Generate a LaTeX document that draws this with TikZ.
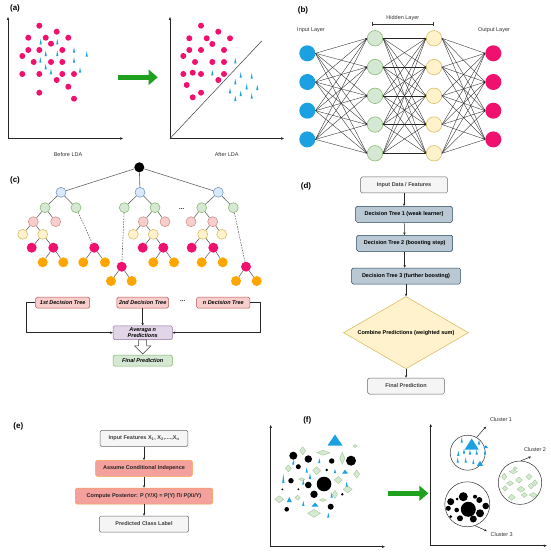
\documentclass[tikz,border=0pt]{standalone}
\usepackage{fontspec}
\setmainfont{Liberation Sans}
\usetikzlibrary{arrows.meta,shapes.geometric,calc}
\definecolor{pinkc}{HTML}{F0106E}
\definecolor{bluec}{HTML}{1BA1E2}
\definecolor{garr}{HTML}{1FA01F}
\definecolor{gfill}{HTML}{D5E8D4}
\definecolor{gdraw}{HTML}{82B366}
\definecolor{yfill}{HTML}{FFF2CC}
\definecolor{ydraw}{HTML}{D6B656}
\definecolor{bfill}{HTML}{DAE8FC}
\definecolor{bdraw}{HTML}{6C8EBF}
\definecolor{rfill}{HTML}{F8CECC}
\definecolor{rdraw}{HTML}{B85450}
\definecolor{pfill}{HTML}{E1D5E7}
\definecolor{pdraw}{HTML}{9673A6}
\definecolor{orc}{HTML}{FFA500}
\definecolor{grfill}{HTML}{F5F5F5}
\definecolor{grdraw}{HTML}{666666}
\definecolor{slfill}{HTML}{BAC8D3}
\definecolor{sldraw}{HTML}{23445D}
\definecolor{sal}{HTML}{F4A09C}
\definecolor{saldraw}{HTML}{F5A047}
\newcommand\spk[3]{\fill[bluec] ({#1-1.1},{#2+#3/2}) -- (#1,{#2-#3/2}) -- ({#1+1.1},{#2+#3/2}) -- cycle;}
\newcommand\btri[4]{\fill[bluec] ({#1-#3/2},{#2+#4/2}) -- (#1,{#2-#4/2}) -- ({#1+#3/2},{#2+#4/2}) -- cycle;}
\newcommand\gdia[4]{\filldraw[fill=gfill,draw=gdraw!80,line width=0.3pt] ({#1-#3/2},#2) -- (#1,{#2-#4/2}) -- ({#1+#3/2},#2) -- (#1,{#2+#4/2}) -- cycle;}
\tikzset{
 lab/.style={font=\fontsize{8}{9}\selectfont\bfseries, text=black},
 txt/.style={font=\fontsize{5.5}{6.5}\selectfont, text=black!80},
 axis/.style={line width=0.5pt, draw=black!85, -{Triangle[length=2.8pt,width=2.2pt]}},
 garrow/.style={line width=5pt, draw=garr, -{Triangle[length=9pt,width=15pt]}},
 nin/.style={circle, fill=bluec, minimum size=16pt, inner sep=0},
 nout/.style={circle, fill=pinkc, minimum size=16pt, inner sep=0},
 nh1/.style={circle, fill=gfill, draw=gdraw, line width=0.5pt, minimum size=15.5pt, inner sep=0},
 nh2/.style={circle, fill=yfill, draw=ydraw, line width=0.5pt, minimum size=15.5pt, inner sep=0},
 nedge/.style={draw=black!85, line width=0.35pt, -{Stealth[length=1.5pt,width=1.2pt]}},
 tn/.style={circle, minimum size=10pt, inner sep=0, line width=0.5pt},
 cbl/.style={tn, fill=bfill, draw=bdraw},
 cgr/.style={tn, fill=gfill, draw=gdraw},
 cpk/.style={tn, fill=rfill, draw=rdraw!70},
 cyl/.style={tn, fill=yfill, draw=ydraw},
 cmg/.style={tn, fill=pinkc},
 cor/.style={tn, fill=orc},
 croot/.style={tn, fill=black},
 tedge/.style={draw=black!60, line width=0.6pt},
 tdashed/.style={tedge, dashed, dash pattern=on 1.5pt off 1.2pt},
 bx/.style={rounded corners=1.5pt, line width=0.5pt, inner sep=1pt, font=\fontsize{5.5}{6.5}\selectfont\bfseries},
 cbox/.style={bx, fill=rfill, draw=rdraw, minimum height=11pt, font=\fontsize{5.5}{6.5}\selectfont\bfseries\itshape},
 grbox/.style={bx, fill=grfill, draw=grdraw, text=black!75, minimum height=16pt},
 slbox/.style={bx, fill=slfill, draw=sldraw, minimum height=16pt},
 salbox/.style={bx, fill=sal, draw=saldraw, text=black!85, minimum height=16pt},
 arr/.style={line width=0.5pt, draw=black!85, -{Stealth[length=2.6pt,width=2.4pt]}},
 clus/.style={circle, draw=black!80, line width=0.5pt, inner sep=0},
 clab/.style={font=\fontsize{5.5}{6.5}\selectfont, text=black!80}
}
\begin{document}
\begin{tikzpicture}[x=1pt,y=-1pt]
\useasboundingbox (0,0) rectangle (550,553);
\fill[white] (0,0) rectangle (550,553);

% ---------------- (a)
\node[lab] (la) at (15,8) {(a)};
\coordinate (ao1) at (8,138.5);
\coordinate (ay1) at (8,17);
\coordinate (ax1) at (123,138.5);
\draw[axis] (ao1) -- (ay1);
\draw[axis] (ao1) -- (ax1);
\foreach \x/\y in {39.3/25.7,56.7/31.7,28.3/37.7,45.7/37.7,68.3/37.7,51/43.7,28.3/50,39.3/50,62.3/50,22.3/56,33.7/62,51/62,62.3/62,22.3/74,39.3/74,62.3/74,74/74,56.7/80,68.3/86.7,39.3/92.7,74/98.7}
  \fill[pinkc] (\x,\y) circle (3pt);
\foreach \x/\y in {40.7/41.7,57.3/41.7,45.7/53.3,57.3/53.3,74/50,86.7/54,40.3/60,74/60,45.7/66.7,80/70,51/71.7}
  {\spk{\x}{\y}{5.5}}
\coordinate (ga1) at (117.7,77.3);
\coordinate (ga2) at (157.7,77.3);
\draw[garrow] (ga1) -- (ga2);
\coordinate (ao2) at (170,138.5);
\coordinate (ay2) at (170,17);
\coordinate (ax2) at (284,138.5);
\coordinate (dg2) at (261.7,41);
\draw[axis] (ao2) -- (ay2);
\draw[axis] (ao2) -- (ax2);
\draw[line width=0.5pt, draw=black!75] (ao2) -- (dg2);
\foreach \x/\y in {201/25.7,218.3/31.7,189.3/38.3,206.7/38.3,230/38.3,212.3/44,189.3/50,201/50,224/50,183.3/56,195/62,212.3/62,224/62,183.3/74,192.7/72.7,201/74,224/74,218.3/80,186.7/85,201/92.7,192.7/97.3}
  \fill[pinkc] (\x,\y) circle (3pt);
\foreach \x/\y in {235.3/60.7,212.3/72.7,240.7/75,251.7/76,235.3/81.7,246.7/86.7,257.3/87.3,230/90.7,240.7/93.3,251.7/96,235.3/98.3}
  {\spk{\x}{\y}{5.5}}
\node[txt] (bl) at (68,154.7) {Before LDA};
\node[txt] (al) at (226.7,154.7) {After LDA};

% ---------------- (b)
\node[lab] (lb) at (303,10.7) {(b)};
\node[txt] (ilt) at (311,30) {Input Layer};
\node[txt] (hlt) at (402.8,18.3) {Hidden Layer};
\node[txt] (olt) at (494,30) {Output Layer};
\coordinate (hb1) at (372.3,24.5);
\coordinate (hb2) at (433.3,24.5);
\draw[line width=0.5pt, draw=black!80, {Bar[width=4pt]}-{Bar[width=4pt]}] (hb1) -- (hb2);
\foreach \i in {1,...,4} {
  \node[nin] (i\i) at (307.3,{53.3+(\i-1)*28.7}) {};
  \node[nout] (o\i) at (493.3,{53.3+(\i-1)*28.7}) {};
}
\foreach \j in {1,...,5} {
  \node[nh1] (h\j) at (375,{38.3+(\j-1)*28.75}) {};
  \node[nh2] (k\j) at (434,{38.3+(\j-1)*28.75}) {};
}
\foreach \i in {1,...,4} \foreach \j in {1,...,5} {
  \draw[nedge] (i\i.east) -- (h\j.west);
  \draw[nedge] (k\j.east) -- (o\i.west);
}
\foreach \i in {1,...,5} \foreach \j in {1,...,5}
  \draw[nedge] (h\i.east) -- (k\j.west);

% ---------------- (c)
\node[lab] (lc) at (15,180.7) {(c)};
\node[croot] (r) at (139.3,167.3) {};
\node[cbl] (b1) at (61,192.3) {};
\node[cbl] (b2) at (140,192.3) {};
\node[cbl] (b3) at (218.3,192.3) {};
% tree 1
\node[cgr] (g11) at (45,207.7) {};
\node[cgr] (g12) at (76,207.7) {};
\node[cpk] (p11) at (33.3,221.7) {};
\node[cpk] (p12) at (55.7,221.7) {};
\node[cyl] (y11) at (22.7,234.3) {};
\node[cyl] (y12) at (42.7,234.3) {};
\node[cmg] (m11) at (31.7,247.7) {};
\node[cmg] (m12) at (53.3,247.7) {};
\node[cor] (o11) at (42.7,262.3) {};
\node[cor] (o12) at (63.3,262.3) {};
\node[cmg] (m13) at (94.3,247.7) {};
\node[cor] (o13) at (83.3,262.3) {};
\node[cor] (o14) at (105,262.3) {};
% tree 2
\node[cgr] (g21) at (124.3,207.7) {};
\node[cgr] (g22) at (155,207.7) {};
\node[cmg] (m23) at (121.7,266.7) {};
\node[cor] (o23) at (111,281) {};
\node[cor] (o24) at (131.7,281) {};
\node[cpk] (p21) at (143.3,221.7) {};
\node[cpk] (p22) at (165,221.7) {};
\node[cyl] (y21) at (133.3,234.3) {};
\node[cyl] (y22) at (153.3,234.3) {};
\node[cmg] (m21) at (142.7,247.7) {};
\node[cmg] (m22) at (163.3,247.7) {};
\node[cor] (o21) at (153.3,262.3) {};
\node[cor] (o22) at (174,262.3) {};
% tree 3
\node[cgr] (g31) at (201.7,207.7) {};
\node[cgr] (g32) at (233.3,207.7) {};
\node[cpk] (p31) at (191,221.7) {};
\node[cpk] (p32) at (212.7,221.7) {};
\node[cyl] (y31) at (202.7,234.3) {};
\node[cyl] (y32) at (221.7,234.3) {};
\node[cmg] (m31) at (191.7,247.7) {};
\node[cmg] (m32) at (213.3,247.7) {};
\node[cor] (o31) at (201.7,262.3) {};
\node[cor] (o32) at (222.7,262.3) {};
\node[cmg] (m33) at (246,266.7) {};
\node[cor] (o33) at (236,281) {};
\node[cor] (o34) at (256.7,281) {};
\foreach \a/\b in {r/b1,r/b2,r/b3,
  b1/g11,b1/g12,g11/p11,g11/p12,p11/y11,p11/y12,y12/m11,y12/m12,m12/o11,m12/o12,m13/o13,m13/o14,
  b2/g21,b2/g22,g22/p21,g22/p22,p21/y21,p21/y22,y22/m21,y22/m22,m22/o21,m22/o22,m23/o23,m23/o24,
  b3/g31,b3/g32,g31/p31,g31/p32,p32/y31,p32/y32,y31/m31,y31/m32,m32/o31,m32/o32,m33/o33,m33/o34}
  \draw[tedge] (\a) -- (\b);
\draw[tdashed] (g12) -- (m13);
\draw[tdashed] (g21) -- (m23);
\draw[tdashed] (g32) -- (m33);
\node[font=\fontsize{6}{7}\selectfont\bfseries] (dots1) at (181.7,209) {...};
\node[cbox, minimum width=54pt] (t1) at (62.7,302.7) {1st Decision Tree};
\node[cbox, minimum width=51.7pt] (t2) at (142.7,302.7) {2nd Decision Tree};
\node[cbox, minimum width=53.3pt] (tn) at (223.3,302.7) {n Decision Tree};
\node[font=\fontsize{6}{7}\selectfont\bfseries] (dots2) at (182.7,301.5) {...};
\node[bx, fill=pfill, draw=pdraw, minimum width=59.3pt, minimum height=13.7pt, align=center, font=\fontsize{5.5}{6.2}\selectfont\bfseries\itshape] (avg) at (142.7,332.7) {Averaga n\\Predictions};
\node[bx, fill=gfill, draw=gdraw, minimum width=59.3pt, minimum height=11pt, font=\fontsize{5.5}{6.5}\selectfont\bfseries\itshape] (fin) at (142.7,360.7) {Final Prediction};
\draw[arr] (t1.west) -- ++(-9.3,0) |- (avg.west);
\draw[arr] (tn.east) -- ++(10,0) |- (avg.east);
\draw[arr] (t2.south) -- (avg.north);
\draw[line width=0.5pt, draw=black!75, fill=white]
  ($(avg.south)+(-4,0)$) -- ($(fin.north)+(-4,-9)$) -- ($(fin.north)+(-8,-9)$) -- ($(fin.north)+(0,-1)$)
  -- ($(fin.north)+(8,-9)$) -- ($(fin.north)+(4,-9)$) -- ($(avg.south)+(4,0)$) -- cycle;

% ---------------- (d)
\node[lab] (ld) at (306,186) {(d)};
\node[grbox, minimum width=86.7pt] (d0) at (404,185) {Input Data / Features};
\node[slbox, minimum width=96.7pt] (d1) at (404,214.3) {Decision Tree 1 (weak learner)};
\node[slbox, minimum width=96pt] (d2) at (404.7,243.3) {Decision Tree 2 (boosting step)};
\node[slbox, minimum width=108.7pt] (d3) at (406,276) {Decision Tree 3 (further boosting)};
\node[diamond, aspect=1.73, fill=yfill, draw=ydraw, line width=0.5pt, minimum width=125pt, minimum height=72.3pt, inner sep=0, font=\fontsize{5.5}{6.5}\selectfont\bfseries] (d4) at (406,332.7) {Combine Predictions (weighted sum)};
\node[grbox, minimum width=76.7pt] (d5) at (406,386) {Final Prediction};
\draw[arr] (d0) -- (d1);
\draw[arr] (d1) -- (d2);
\draw[arr] (d2.south) -- (d2.south |- d3.north);
\draw[arr] (d3) -- (d4);
\draw[arr] (d4) -- (d5);

% ---------------- (e)
\node[lab] (le) at (18.3,426) {(e)};
\node[grbox, minimum width=87.7pt] (e0) at (144,438.3) {Input Features X\textsubscript{1}, X\textsubscript{2},....,X\textsubscript{n}};
\node[salbox, minimum width=96.7pt] (e1) at (144,468.3) {Assume Conditional Indepence};
\node[salbox, minimum width=137.3pt] (e2) at (144,496) {Compute Posterior: P (Y/X) = P(Y) Πi P(Xi/Y)};
\node[grbox, minimum width=89.3pt] (e3) at (144,524) {Predicted Class Label};
\draw[arr] (e0) -- (e1);
\draw[arr] (e1) -- (e2);
\draw[arr] (e2) -- (e3);

% ---------------- (f)
\node[lab] (lf) at (307.3,420) {(f)};
\coordinate (fo1) at (270.7,546.7);
\coordinate (fy1) at (270.7,425);
\coordinate (fx1) at (385,546.7);
\draw[axis] (fo1) -- (fy1);
\draw[axis] (fo1) -- (fx1);
\foreach \x/\y/\w/\h in {302.7/450.7/6/8,323.3/452.7/13/5,355/446/4/3,342.3/458.3/5/12,288.3/468.3/6/7,316.7/470.7/8/8,356.7/474/6/8,301.7/479.3/6/3,338.3/480/8/7,347.7/489.3/9/7,335/494.3/5/8,279.3/499.3/9/7,297.7/497.7/5/5,322.7/500/7/3,314/513.3/13/8}
  {\gdia{\x}{\y}{\w}{\h}}
\foreach \x/\y/\r in {293.3/455.7/4,308.3/459/3.7,298.3/466.7/2.5,331.7/461/2.7,351/460.7/5,326.7/470/1.3,291/480.7/2.7,308.3/485/3.3,324/484/7.3,314/494.3/3.7,282.3/489.3/1,298.3/489.3/1,342.3/494.3/1.3,330.7/506.7/3,286.7/509.3/2.3}
  \fill[black] (\x,\y) circle (\r pt);
\foreach \x/\y/\w/\h in {335/440/15/11,345/471.7/6/4,289.3/499.5/5/5,315/504.5/7/4}
  {\btri{\x}{\y}{\w}{\h}}
\foreach \x/\y/\h in {293.3/462/5,319.3/460.5/5,306.7/470/5,335/471/4,283.3/478.3/9,310/476/6,303.3/482/5,346.7/484/5,331.7/495/5,303.3/503.3/5,328.3/515/5}
  {\spk{\x}{\y}{\h}}
\coordinate (fa1) at (388.3,493.3);
\coordinate (fa2) at (428.3,493.3);
\draw[garrow] (fa1) -- (fa2);
\coordinate (fo2) at (430.7,545.7);
\coordinate (fy2) at (430.7,424);
\coordinate (fx2) at (546.7,545.7);
\draw[axis] (fo2) -- (fy2);
\draw[axis] (fo2) -- (fx2);
% cluster 1
\node[clus, minimum size=35pt] (cl1) at (467.7,452.7) {};
\btri{471.7}{444}{14}{11}
\foreach \x/\y/\w/\h in {485.7/446.7/5/3,480/463.3/6/5}
  {\btri{\x}{\y}{\w}{\h}}
\foreach \x/\y in {461.7/440,479/442,458.3/453.3,464/451,470/452,476.7/452,485/452,465.7/460,473.3/461.7,457.7/460}
  {\spk{\x}{\y}{5}}
% cluster 2
\node[clus, minimum size=43.4pt] (cl2) at (520,482.7) {};
\foreach \x/\y/\w/\h in {513.3/471.7/8/4,504.3/476.7/5/7,519/480/7/6,529/476.7/6/6,535/482.7/5/6,510/483.3/7/5,521/489.3/8/6,531/486/6/6,505/488.3/5/5,511.7/497.3/7/6,524.3/495/6/5,515/468.3/4/3,533.3/495/8/5}
  {\gdia{\x}{\y}{\w}{\h}}
% cluster 3
\node[clus, minimum size=45pt] (cl3) at (467.3,504.3) {};
\foreach \x/\y/\r in {468.3/509.3/7.5,463.3/496.7/4.5,450.7/501.7/3.5,475/496.7/2,479.3/500/3,485.7/506/3.3,448.3/508.3/2.5,456.7/510/2.3,480/513.3/4,473.3/519/3.5,460/518.3/3,450.7/516.7/1.5,457/499/1.5}
  \fill[black] (\x,\y) circle (\r pt);
\coordinate (ce1) at (486,426.7);
\coordinate (ce2) at (531,456.7);
\coordinate (ce3) at (486.7,531);
\draw[arr] (cl1.60) -- (ce1);
\draw[arr] (cl2.88) -- (ce2);
\draw[arr] (cl3.-70) -- (ce3);
\node[clab] (ct1) at (501,420) {Cluster 1};
\node[clab] (ct2) at (535,450) {Cluster 2};
\node[clab] (ct3) at (501.7,535) {Cluster 3};
\end{tikzpicture}
\end{document}
